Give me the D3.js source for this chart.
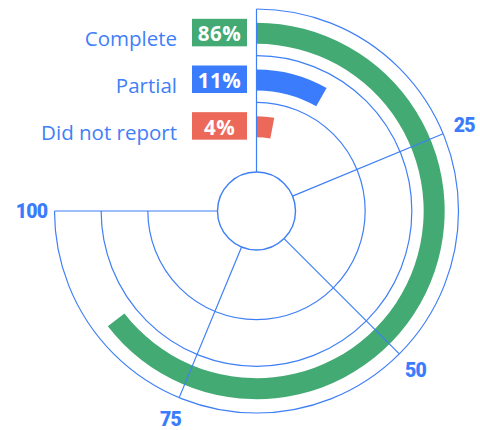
<!DOCTYPE html>
<html><head><meta charset="utf-8">
<script src="https://cdn.jsdelivr.net/npm/d3@7"></script>
<style>body{margin:0;background:#fff}svg{display:block}</style>
</head><body>
<svg id="chart" width="480" height="430"></svg>
<script>
const categories = ["Complete", "Partial", "Did not report"];
const values = [86, 11, 4];
const valueLabels = ["86%", "11%", "4%"];
const colors = ["#43aa73", "#3b7cfd", "#ec6959"];
const tickValues = [25, 50, 75, 100];
const tickLabels = ["25", "50", "75", "100"];

const svg = d3.select("#chart");
const cx = 256.5, cy = 211;
const grid = "#3f7ff6";
const g = svg.append("g").attr("transform", `translate(${cx},${cy})`);

const angle = d3.scaleLinear().domain([0, 100]).range([0, 1.5 * Math.PI]);
const band = d3.scaleBand().domain(categories.slice().reverse()).range([62, 202]);
const innerR = 39;
const barW = 21;

// grid rings (0..270deg)
const ringRadii = [band.step() + 62, 2 * band.step() + 62, 202];
g.selectAll(".ring").data(ringRadii).join("path")
  .attr("d", d => {
    const p = d3.path();
    p.arc(0, 0, d, angle(0) - Math.PI / 2, angle(100) - Math.PI / 2);
    return p.toString();
  })
  .attr("fill", "none").attr("stroke", grid).attr("stroke-width", 1.2);

// bars
const barArc = d3.arc()
  .innerRadius(d => band(d.c) + band.bandwidth() / 2 - 1 - barW / 2)
  .outerRadius(d => band(d.c) + band.bandwidth() / 2 - 1 + barW / 2)
  .startAngle(0).endAngle(d => angle(d.v));
const data = categories.map((c, i) => ({ c, v: values[i], color: colors[i], label: valueLabels[i] }));
g.selectAll(".bar").data(data).join("path")
  .attr("d", barArc).attr("fill", d => d.color);

// spokes
g.selectAll(".spoke").data([0].concat(tickValues)).join("line")
  .attr("x1", d => innerR * Math.sin(angle(d)))
  .attr("y1", d => -innerR * Math.cos(angle(d)))
  .attr("x2", d => 202 * Math.sin(angle(d)))
  .attr("y2", d => -202 * Math.cos(angle(d)))
  .attr("stroke", grid).attr("stroke-width", 1.2);

// inner circle
g.append("circle").attr("r", innerR).attr("fill", "#fff").attr("stroke", grid).attr("stroke-width", 1.4);

// tick labels
const labR = 225;
g.selectAll(".tick").data(tickValues).join("text")
  .attr("x", d => labR * Math.sin(angle(d)))
  .attr("y", d => -labR * Math.cos(angle(d)))
  .attr("dy", "0.35em")
  .attr("text-anchor", "middle")
  .attr("font-family", "Roboto, sans-serif").attr("font-weight", 900)
  .attr("font-size", 19.5).attr("letter-spacing", -0.8)
  .attr("fill", "#3b7cfd")
  .text((d, i) => tickLabels[i]);

// legend labels and value boxes
const leg = g.selectAll(".leg").data(data).join("g")
  .attr("transform", d => `translate(0,${-(band(d.c) + band.bandwidth() / 2 - 1)})`);
leg.append("rect").attr("x", 192 - cx).attr("y", -14.5).attr("width", 55).attr("height", 27.5)
  .attr("fill", d => d.color);
leg.append("text").attr("x", 192 - cx + 27.5).attr("y", 8)
  .attr("text-anchor", "middle")
  .attr("font-family", "'Open Sans', sans-serif").attr("font-weight", 700).attr("font-size", 20.5)
  .attr("letter-spacing", 0.5)
  .attr("fill", "#fff").text(d => d.label);
leg.append("text").attr("x", 177 - cx).attr("y", 13)
  .attr("text-anchor", "end")
  .attr("font-family", "'Open Sans', sans-serif").attr("font-weight", 400).attr("font-size", 20.5)
  .attr("fill", "#3f80f6").text(d => d.c);
</script>
</body></html>
